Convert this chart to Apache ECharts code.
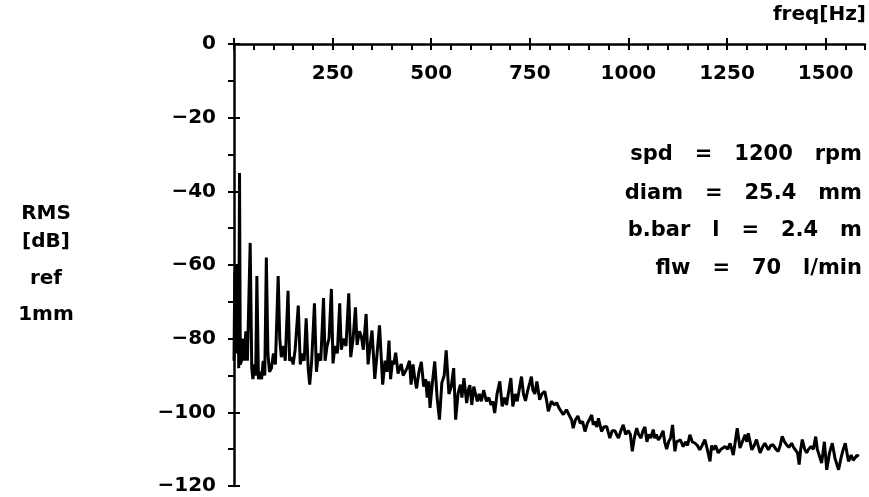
<!DOCTYPE html>
<html>
<head>
<meta charset="utf-8">
<script src="https://cdn.jsdelivr.net/npm/echarts@6/dist/echarts.min.js"></script>
<style>
  html, body { margin: 0; padding: 0; background: #fff; }
  #chart { width: 869px; height: 497px; }
</style>
</head>
<body>
<div id="chart"></div>
<script>
// spectrum: frequency [Hz] and RMS level [dB ref 1mm]
let freqs = [
  0, 2, 4, 6, 8, 10, 12, 14, 16, 19, 22, 26, 30, 34, 41, 45, 48, 52, 55, 58,
  62, 66, 70, 74, 78, 82, 86, 90, 95, 100, 105, 112, 116, 120, 126, 130, 137, 141, 146, 150,
  155, 163, 168, 173, 178, 183, 188, 192, 197, 204, 209, 214, 220, 227, 231, 236, 241, 247, 251, 256,
  262, 268, 272, 278, 284, 291, 296, 302, 308, 312, 318, 323, 328, 335, 340, 345, 350, 357, 362, 369,
  377, 383, 388, 393, 397, 402, 405, 410, 416, 420, 424, 429, 433, 439, 445, 449, 454, 458, 463, 469,
  475, 481, 486, 490, 494, 497, 503, 509, 515, 521, 527, 533, 538, 545, 551, 557, 562, 568, 574, 578,
  583, 590, 594, 598, 603, 608, 612, 617, 622, 627, 633, 640, 646, 652, 656, 661, 667, 674, 680, 686,
  691, 697, 702, 707, 713, 718, 723, 729, 734, 739, 745, 750, 754, 758, 763, 768, 775, 781, 788, 793,
  797, 805, 812, 818, 825, 830, 835, 843, 851, 856, 860, 866, 872, 878, 884, 890, 896, 901, 907, 911,
  915, 920, 924, 932, 938, 945, 953, 959, 966, 970, 975, 981, 987, 993, 1000, 1005, 1010, 1015, 1021, 1026,
  1032, 1037, 1042, 1047, 1052, 1057, 1063, 1067, 1071, 1076, 1082, 1088, 1092, 1097, 1102, 1107, 1112, 1118, 1122, 1126,
  1132, 1139, 1145, 1150, 1156, 1162, 1169, 1175, 1181, 1187, 1194, 1200, 1207, 1211, 1215, 1221, 1228, 1235, 1240, 1245,
  1252, 1258, 1266, 1271, 1276, 1283, 1289, 1296, 1300, 1304, 1313, 1319, 1325, 1334, 1340, 1346, 1355, 1361, 1367, 1374,
  1380, 1385, 1390, 1396, 1401, 1407, 1414, 1419, 1424, 1429, 1433, 1437, 1441, 1447, 1452, 1457, 1463, 1469, 1475, 1479,
  1482, 1490, 1497, 1503, 1510, 1517, 1524, 1533, 1540, 1545, 1550, 1558, 1565, 1570, 1575, 1580, 1584
];
let levels = [
  -86, -62, -84, -60, -80, -66, -88, -35, -87, -86, -80, -86, -78, -86, -54, -88, -91, -87, -90, -63,
  -91, -89, -91, -86, -90, -58, -84, -89, -88, -84, -87, -63, -80, -85, -82, -86, -67, -86, -85, -87,
  -83, -71, -87, -84, -86, -74.5, -88, -92.5, -86, -70.4, -89, -84, -86, -69, -86, -82, -80, -66.5, -86.7, -82,
  -84, -70.4, -83, -80, -82, -67.7, -85, -80, -71.5, -81.7, -78, -79.4, -83, -73.3, -87, -82, -77.8, -90.9, -85, -76.4,
  -92.5, -86, -89, -80.5, -91, -86, -87, -83.8, -89.5, -88, -86.9, -90, -89.8, -88, -86, -92.5, -87, -90.5, -93.5, -89,
  -86.3, -93, -91, -96, -91.6, -98.8, -92, -86.2, -96, -102, -92, -90, -83.2, -95, -93, -88, -102, -95, -92.5, -96,
  -90.7, -97.5, -94, -92.6, -98, -93, -93, -97, -95, -97, -94, -97, -96, -98, -97, -100.2, -95, -91.6, -98.4, -96,
  -98, -94, -90.7, -98.4, -95, -97, -94, -90.3, -95, -96.9, -94, -92, -90.3, -94, -95, -91.6, -96.6, -95, -94.3, -97,
  -99.7, -97, -98, -97.4, -99, -98.8, -100.6, -99.3, -101, -102, -104.3, -102, -101, -103, -102.5, -105.2, -103, -102, -100.7, -103.4,
  -102.5, -104, -101.6, -105.2, -104, -103.8, -107, -105, -105, -106, -107, -105, -103.4, -106, -105, -106, -110.6, -107, -104.3, -106,
  -107, -105, -104, -108, -106, -107, -104.7, -107, -106, -107.5, -106.5, -105, -108, -110, -108, -107, -103.4, -110.6, -108, -108.4,
  -107.5, -109.3, -108, -109, -106.1, -108, -108.4, -109, -110.2, -109, -107.4, -110, -113.3, -109, -110.2, -109, -111, -110, -109.5, -109.3,
  -110, -108.4, -111.6, -108, -104.3, -109.7, -108, -106.1, -108, -105.7, -110.2, -109, -107.4, -111, -109.5, -108.4, -110.2, -109, -108.8, -110,
  -110.6, -109, -106.5, -108, -108.8, -109.5, -108.4, -109.5, -110, -111, -114.2, -110, -107.4, -110, -111, -110, -109.3, -110, -106.6, -110,
  -111, -113.8, -108, -115.6, -111, -108.4, -112.5, -115.6, -112, -110, -108.4, -113.3, -111.6, -113, -112.5, -111.6, -112
];

let xMajorTicks = [0, 250, 500, 750, 1000, 1250, 1500];
let xTickLabels = [250, 500, 750, 1000, 1250, 1500];

let notes = [
  "spd   =   1200   rpm",
  "diam   =   25.4   mm",
  "b.bar   l   =   2.4   m",
  "flw   =   70   l/min"
];
let yTitle = ["RMS", "[dB]", "ref", "1mm"];

const FONT = "DejaVu Sans";
const txt = { fontFamily: FONT, fontWeight: "bold", fontSize: 20, color: "#000" };

let chart = echarts.init(document.getElementById("chart"), null, { renderer: "canvas" });

let graphics = [{
  type: "text", right: 3, top: 5,
  style: { text: "freq[Hz]", fill: "#000", font: "bold 20px " + FONT }
}];
let noteY = [144, 183, 220, 258];
notes.forEach((n, i) => {
  graphics.push({
    type: "text", right: 7, top: noteY[i],
    style: { text: n, fill: "#000", font: "bold 21px " + FONT }
  });
});
let titleY = [204, 232, 269, 305];
yTitle.forEach((t, i) => {
  graphics.push({
    type: "text", x: 46, y: titleY[i],
    style: { text: t, fill: "#000", font: "bold 20px " + FONT, textAlign: "center" }
  });
});

let option = {
  backgroundColor: "#fff",
  animation: false,
  grid: { left: 234, right: 4, top: 44, bottom: 11, containLabel: false },
  xAxis: [{
    type: "value", position: "top", min: 0, max: 1600, interval: 250,
    axisLine: { lineStyle: { color: "#000", width: 2.5 } },
    axisTick: { inside: false, length: 6, lineStyle: { color: "#000", width: 2 }, customValues: xMajorTicks },
    axisLabel: Object.assign({ inside: true, margin: 20, customValues: xTickLabels, formatter: v => String(v) }, txt),
    splitLine: { show: false }
  }, {
    type: "value", position: "top", min: 0, max: 1600, interval: 50,
    axisLine: { show: false },
    axisTick: { inside: true, length: 6, lineStyle: { color: "#000", width: 2 } },
    axisLabel: { show: false },
    splitLine: { show: false }
  }],
  yAxis: [{
    type: "value", position: "left", min: -120, max: 0, interval: 20,
    axisLine: { lineStyle: { color: "#000", width: 2.5 } },
    axisTick: { inside: true, length: 6, lineStyle: { color: "#000", width: 2 } },
    axisLabel: Object.assign({ margin: 18, formatter: v => (v < 0 ? "\u2212" + Math.abs(v) : String(v)) }, txt),
    splitLine: { show: false }
  }, {
    type: "value", position: "left", min: -120, max: 0, interval: 10,
    axisLine: { show: false },
    axisTick: { inside: false, length: 6, lineStyle: { color: "#000", width: 2 } },
    axisLabel: { show: false },
    splitLine: { show: false }
  }],
  graphic: graphics,
  series: [{
    type: "line",
    xAxisIndex: 0, yAxisIndex: 0,
    data: freqs.map((f, i) => [f, levels[i]]),
    showSymbol: false,
    lineStyle: { color: "#000", width: 3 },
    z: 3
  }]
};

chart.setOption(option);
</script>
</body>
</html>
